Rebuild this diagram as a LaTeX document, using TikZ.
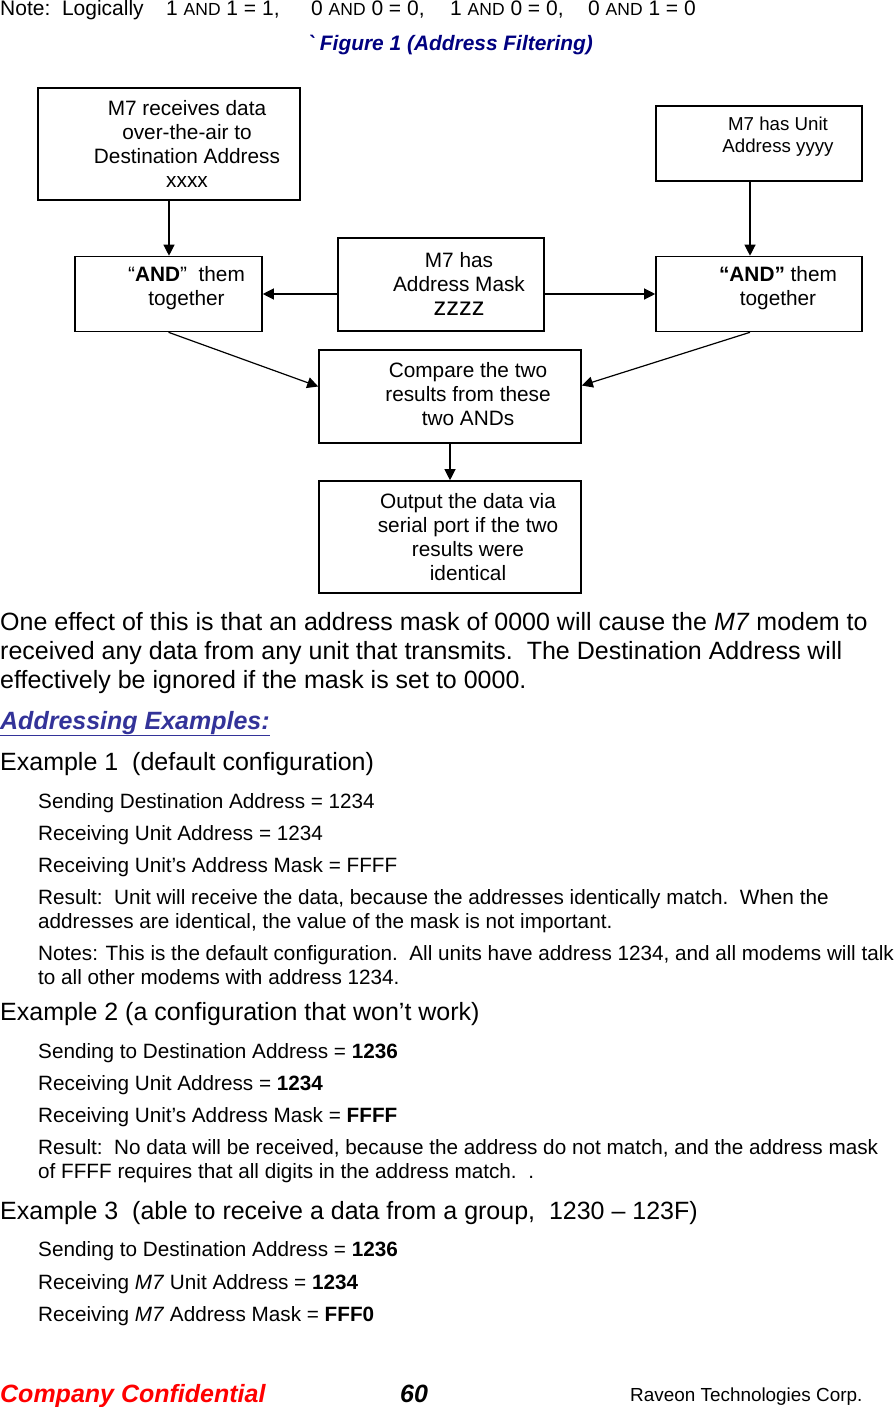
\documentclass[tikz,border=0pt]{standalone}
\usepackage{fontspec}
\setmainfont{Liberation Sans}
\usetikzlibrary{arrows.meta, calc}
\definecolor{capblue}{HTML}{000080}
\definecolor{headblue}{HTML}{333399}
\definecolor{confred}{HTML}{FF0000}
\newcommand{\andsc}{{\fontsize{17.5}{19}\selectfont AND}}

\tikzset{
  box/.style={draw, line width=1.6pt, inner sep=0pt},
  boxtext/.style={align=center, inner sep=0pt, font=\fontsize{20.8}{24}\selectfont},
  flow/.style={-{Triangle[length=11pt,width=11pt]}, line width=1.2pt},
  body/.style={anchor=base west, inner sep=0pt, font=\fontsize{25}{29}\selectfont},
  small/.style={anchor=base west, inner sep=0pt, font=\fontsize{20.7}{24}\selectfont}
}

\begin{document}
\begin{tikzpicture}[x=1pt, y=-1pt]
        \useasboundingbox[fill=white] (0,0) rectangle (896,1407);

        % note and caption
        \node[small, font=\fontsize{21}{24}\selectfont] (note) at (0,16) {Note:\ \ Logically};
        \node[small, font=\fontsize{21}{24}\selectfont] (and11) at (166,16) {1 \andsc{} 1 = 1,};
        \node[small, font=\fontsize{21}{24}\selectfont] (and00) at (311,16) {0 \andsc{} 0 = 0,};
        \node[small, font=\fontsize{21}{24}\selectfont] (and10) at (450,16) {1 \andsc{} 0 = 0,};
        \node[small, font=\fontsize{21}{24}\selectfont] (and01) at (588,16) {0 \andsc{} 1 = 0};
        \node[small, font=\fontsize{20.9}{24}\selectfont\bfseries\itshape, text=capblue] (caption) at (307,51) {\textasciigrave\ Figure 1 (Address Filtering)};

        % flow chart boxes
        \node[box, minimum width=262pt, minimum height=112pt,
              label={[boxtext, xshift=18pt]center:{M7 receives data\\over-the-air to\\Destination Address\\xxxx}}] (recv) at (169,144) {};
        \node[box, minimum width=206pt, minimum height=75pt,
              label={[boxtext, font=\fontsize{18.7}{22}\selectfont, xshift=19pt, yshift=7pt]center:{M7 has Unit\\Address yyyy}}] (unit) at (759,143.5) {};
        \node[box, minimum width=187pt, minimum height=75pt,
              label={[boxtext, xshift=18pt, yshift=5.5pt]center:{“\textbf{AND}”\ \ them\\together}}] (andL) at (168.5,294) {};
        \node[box, minimum width=206pt, minimum height=93pt,
              label={[boxtext, xshift=18pt, yshift=1pt]center:{M7 has\\Address Mask\\{\fontsize{25.5}{27}\selectfont zzzz}}}] (mask) at (441,284.5) {};
        \node[box, minimum width=206pt, minimum height=75pt,
              label={[boxtext, xshift=19pt, yshift=5.5pt]center:{\textbf{“AND”} them\\together}}] (andR) at (759,294) {};
        \node[box, minimum width=262pt, minimum height=93pt,
              label={[boxtext, xshift=18pt, yshift=2.5pt]center:{Compare the two\\results from these\\two ANDs}}] (cmp) at (450,396.5) {};
        \node[box, minimum width=262pt, minimum height=112pt,
              label={[boxtext, xshift=18pt]center:{Output the data via\\serial port if the two\\results were\\identical}}] (out) at (450,537) {};

        % connectors
        \draw[flow] (recv.south) -- (recv.south |- andL.north);
        \draw[flow] ([xshift=-9pt]unit.south) -- ([xshift=-9pt]andR.north);
        \draw[flow] (mask.west |- andL.east) -- (andL.east);
        \draw[flow] (mask.east |- andR.west) -- (andR.west);
        \draw[flow] (andL.south) -- ([yshift=10pt]cmp.west);
        \draw[flow] ([xshift=-9pt]andR.south) -- ([yshift=11pt]cmp.east);
        \draw[flow] (cmp.south) -- (out.north);

        % text below the chart
        \node[body] (eff1) at (0,630) {One effect of this is that an address mask of 0000 will cause the \textit{M7} modem to};
        \node[body] (eff2) at (0,659) {received any data from any unit that transmits.\ \ The Destination Address will};
        \node[body] (eff3) at (0,688) {effectively be ignored if the mask is set to 0000.};
        \node[body, font=\fontsize{25}{29}\selectfont\bfseries\itshape, text=headblue] (head) at (0,729) {\underline{Addressing Examples:}};

        \node[body] (ex1) at (0,770) {Example 1\ \ (default configuration)};
        \node[small] (ex1a) at (38,808) {Sending Destination Address = 1234};
        \node[small] (ex1b) at (38,840) {Receiving Unit Address = 1234};
        \node[small] (ex1c) at (38,872) {Receiving Unit’s Address Mask = FFFF};
        \node[small] (ex1d) at (38,904) {Result:\ \ Unit will receive the data, because the addresses identically match.\ \ When the};
        \node[small] (ex1e) at (38,928) {addresses are identical, the value of the mask is not important.};
        \node[small] (ex1f) at (38,960) {Notes: This is the default configuration.\ \ All units have address 1234, and all modems will talk};
        \node[small] (ex1g) at (38,984) {to all other modems with address 1234.};

        \node[body] (ex2) at (0,1020) {Example 2 (a configuration that won’t work)};
        \node[small] (ex2a) at (38,1058) {Sending to Destination Address = \textbf{1236}};
        \node[small] (ex2b) at (38,1090) {Receiving Unit Address = \textbf{1234}};
        \node[small] (ex2c) at (38,1122) {Receiving Unit’s Address Mask = \textbf{FFFF}};
        \node[small] (ex2d) at (38,1154) {Result:\ \ No data will be received, because the address do not match, and the address mask};
        \node[small] (ex2e) at (38,1178) {of FFFF requires that all digits in the address match.\ \ .};

        \node[body] (ex3) at (0,1219) {Example 3\ \ (able to receive a data from a group,\ \ 1230 – 123F)};
        \node[small] (ex3a) at (38,1256) {Sending to Destination Address = \textbf{1236}};
        \node[small] (ex3b) at (38,1289) {Receiving \textit{M7} Unit Address = \textbf{1234}};
        \node[small] (ex3c) at (38,1321) {Receiving \textit{M7} Address Mask = \textbf{FFF0}};

        % footer
        \node[body, font=\fontsize{25}{29}\selectfont\bfseries\itshape, text=confred] (conf) at (0,1402) {Company Confidential};
        \node[body, font=\fontsize{25}{29}\selectfont\bfseries\itshape] (page) at (400,1402) {60};
        \node[small, font=\fontsize{18.9}{22}\selectfont] (corp) at (630,1401) {Raveon Technologies Corp.};
    \end{tikzpicture}
\end{document}
